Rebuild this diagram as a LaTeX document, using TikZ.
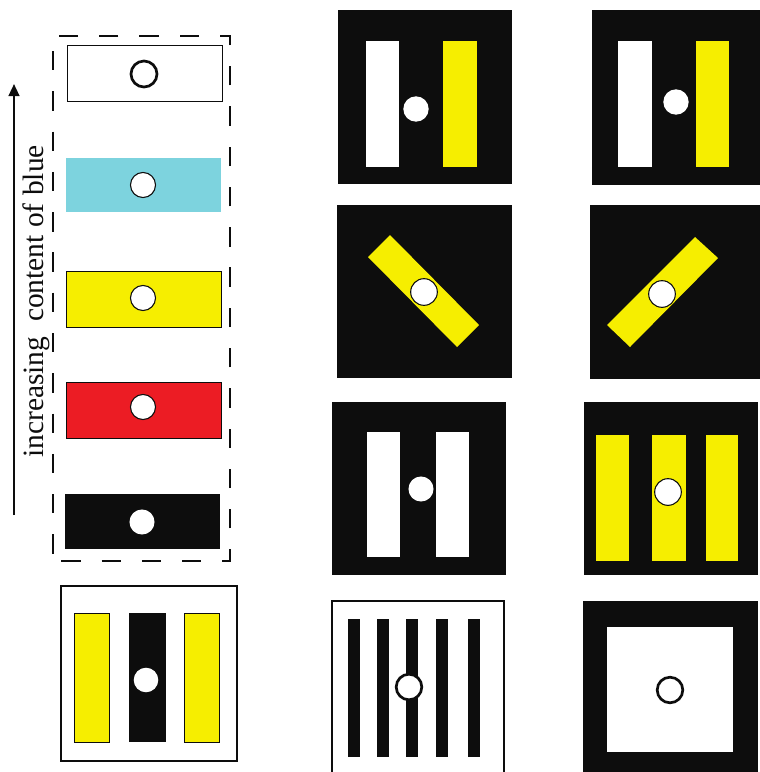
\documentclass[tikz,border=0pt]{standalone}
\usepackage{fontspec}
\setmainfont{Liberation Serif}
\usetikzlibrary{arrows.meta}
\definecolor{ycol}{HTML}{F6EE00}
\definecolor{ccol}{HTML}{7DD3DE}
\definecolor{rcol}{HTML}{EC1C24}
\definecolor{ink}{HTML}{0D0D0D}
\begin{document}
\begin{tikzpicture}[x=0.75pt,y=-0.75pt,
  panel/.style={fill=ink},
  ybar/.style={fill=ycol},
  ybaro/.style={fill=ycol,draw=ink,line width=0.6pt},
  wbar/.style={fill=white},
  kbar/.style={fill=ink},
  sample/.style={draw=ink,line width=0.6pt},
  wdot/.style={fill=white},
  odot/.style={fill=white,draw=ink,line width=0.8pt},
  tdot/.style={fill=white,draw=ink,line width=2pt},
  dashbox/.style={draw=ink,line width=2.2pt,dash pattern=on 14.5pt off 15.7pt,dash phase=24pt},
  frame/.style={draw=ink,line width=1.9pt},
  thinframe/.style={draw=ink,line width=1pt}]
\useasboundingbox (0,0) rectangle (760,772);
\clip (0,0) rectangle (760,772);

% ---------- left column ----------
\draw[dashbox] (53,561) -- (230,561) -- (230,36) -- (53,36) -- cycle;
\draw[sample,fill=white] (67,45) rectangle (222,101);
\path[tdot] (144,74) circle[radius=9.75pt];
\fill[ccol] (66,158) rectangle (221,212);
\path[odot] (143,185) circle[radius=9.4pt];
\draw[sample,fill=ycol] (66,271) rectangle (221,327);
\path[odot] (143,298) circle[radius=9.4pt];
\draw[sample,fill=rcol] (66,382) rectangle (221,438);
\path[odot] (143,407) circle[radius=9.4pt];
\fill[ink] (65,494) rectangle (220,549);
\path[wdot] (142,522) circle[radius=9.4pt];

\coordinate (abot) at (14,515);
\coordinate (atop) at (14,84);
\draw[ink,line width=1.6pt,-{Triangle[length=9pt,width=8pt]}] (abot) -- (atop);
\node[rotate=90,anchor=base west,inner sep=0pt,font=\fontsize{22.1}{26}\selectfont,text=ink]
  (lbl) at (43,458) {increasing\ \ content of blue};

% bottom-left panel
\draw[frame,fill=white] (61,586) rectangle (237,761);
\draw[ybaro] (74,613) rectangle (109,742);
\fill[ink] (129,613) rectangle (166,742);
\draw[ybaro] (184,613) rectangle (219,742);
\path[wdot] (146,680) circle[radius=9.2pt];

% ---------- row 1 ----------
\fill[panel] (338,10) rectangle (512,184);
\fill[white] (366,41) rectangle (399,167);
\fill[ycol] (443,41) rectangle (477,167);
\path[wdot] (416,109) circle[radius=9.5pt];

\fill[panel] (592,10) rectangle (766,185);
\fill[white] (618,41) rectangle (652,167);
\fill[ycol] (696,41) rectangle (729,167);
\path[wdot] (676,102) circle[radius=9.5pt];

% ---------- row 2 ----------
\fill[panel] (337,205) rectangle (512,378);
\fill[ycol] (368,257) -- (390,235) -- (479,325) -- (457,347) -- cycle;
\path[odot] (424,292) circle[radius=10pt];

\fill[panel] (590,205) rectangle (764,379);
\fill[ycol] (607,325) -- (630,347) -- (718,258) -- (695,237) -- cycle;
\path[odot] (662,294) circle[radius=10pt];

% ---------- row 3 ----------
\fill[panel] (332,402) rectangle (506,575);
\fill[white] (367,432) rectangle (400,557);
\fill[white] (436,432) rectangle (469,557);
\path[wdot] (421,489) circle[radius=9.4pt];

\fill[panel] (584,402) rectangle (758,575);
\fill[ycol] (596,435) rectangle (629,561);
\fill[ycol] (652,435) rectangle (686,561);
\fill[ycol] (706,435) rectangle (738,561);
\path[odot] (668,492) circle[radius=10pt];

% ---------- row 4 ----------
\draw[thinframe,fill=white] (332,601) rectangle (504,780);
\foreach \xa in {348,377,406,436,468}
  \fill[ink] (\xa,619) rectangle ++(12,138);
\path[tdot] (409,687) circle[radius=9.6pt];

\fill[panel] (583,601) rectangle (758,778);
\fill[white] (607,627) rectangle (733,752);
\path[tdot] (670,690) circle[radius=9.6pt];
\end{tikzpicture}
\end{document}
